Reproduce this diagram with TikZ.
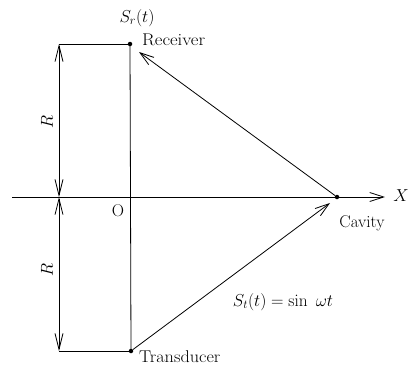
\documentclass[tikz,border=0pt]{standalone}
\usetikzlibrary{arrows.meta}
\begin{document}
\begin{tikzpicture}[x=1pt,y=-1pt,
  ln/.style={line width=0.8pt},
  barb/.style={-{Straight Barb[length=14pt,width=9pt,line width=0.8pt]}},
  dimarrow/.style={{Straight Barb[length=16pt,width=8pt,line width=0.8pt]}-{Straight Barb[length=16pt,width=8pt,line width=0.8pt]}},
  dotnode/.style={circle,fill,inner sep=0pt,minimum size=4.5pt},
  lbl/.style={inner sep=0pt,font=\fontsize{17}{19}\selectfont}]
\useasboundingbox (0,0) rectangle (413,367);
% points
\node[dotnode] (rec) at (130,44) {};
\node[dotnode] (tra) at (131,351) {};
\node[dotnode] (cav) at (337,197) {};
\coordinate (o) at (130,197);
\coordinate (axl) at (12,197);
\coordinate (axr) at (385,197);
\coordinate (dt) at (59,44);
\coordinate (dm) at (59,197);
\coordinate (db) at (59,351);
% lines
\draw[ln] (rec.center) -- (tra.center);
\draw[ln] (dt) -- (rec.center);
\draw[ln] (db) -- (tra.center);
\draw[ln,barb] (axl) -- (axr);
\draw[ln,dimarrow] (dt) -- (dm);
\draw[ln,dimarrow] (dm) -- (db);
\draw[ln,barb] (cav) -- (139,52);
\draw[ln,barb] (tra) -- (330,203);
% labels
\node[lbl] (sr) at (137,18) {$S_r(t)$};
\node[lbl,anchor=west] (recl) at (142,40) {\scalebox{1.1}[1]{Receiver}};
\node[lbl,anchor=west] (tral) at (139,357) {\scalebox{1.07}[1]{Transducer}};
\node[lbl] (cavl) at (362,223) {Cavity};
\node[lbl] (xl) at (401,196) {$X$};
\node[lbl] (stl) at (283,302) {$S_t(t)=\sin\ \omega t$};
\node[lbl] (ol) at (118,211) {O};
\node[lbl,rotate=90] (r1) at (47,122) {$R$};
\node[lbl,rotate=90] (r2) at (47,270) {$R$};
\end{tikzpicture}
\end{document}
